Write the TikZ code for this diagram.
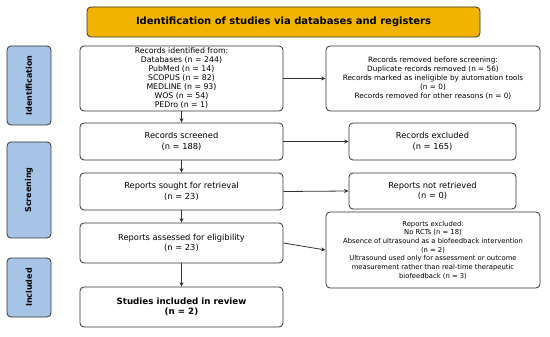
\documentclass[tikz,border=0pt]{standalone}
\usepackage{fontspec}
\setmainfont{DejaVu Sans}
\usetikzlibrary{arrows.meta}
\definecolor{headgold}{HTML}{F2B300}
\definecolor{phaseblue}{HTML}{A6C4E6}
\definecolor{edgegray}{HTML}{333333}
\begin{document}
\begin{tikzpicture}[x=1pt,y=-1pt,
  box/.style={draw=edgegray,line width=0.8pt,rounded corners=4pt,fill=white,inner sep=0pt,align=center,font=\fontsize{8.3}{10.5}\selectfont},
  phase/.style={box,fill=phaseblue,minimum width=44pt,font=\fontsize{8}{9}\selectfont\bfseries},
  flow/.style={-{Stealth[length=4.5pt,width=4pt]},line width=0.8pt,draw=edgegray}]
\useasboundingbox (0,0) rectangle (550,337);
\node[box,fill=headgold,minimum width=393pt,minimum height=30pt,font=\fontsize{10}{12}\selectfont\bfseries] (title) at (283.5,22) {Identification of studies via databases and registers};
\node[phase,minimum height=79pt] (phId) at (29,85.5) {\rotatebox{90}{Identification}};
\node[phase,minimum height=96pt] (phScr) at (29,190) {\rotatebox{90}{Screening}};
\node[phase,minimum height=59pt] (phInc) at (29,287.5) {\rotatebox{90}{Included}};
\node[box,minimum width=203pt,minimum height=65pt,font=\fontsize{7.8}{9}\selectfont] (ident) at (181.5,78.5) {Records identified from:\\Databases (n = 244)\\PubMed (n = 14)\\SCOPUS (n = 82)\\MEDLINE (n = 93)\\WOS (n = 54)\\PEDro (n = 1)};
\node[box,minimum width=203pt,minimum height=37pt] (screened) at (181.5,141.5) {Records screened\\(n = 188)};
\node[box,minimum width=203pt,minimum height=37pt] (sought) at (181.5,191.5) {Reports sought for retrieval\\(n = 23)};
\node[box,minimum width=203pt,minimum height=40pt] (assessed) at (181.5,243) {Reports assessed for eligibility\\(n = 23)};
\node[box,minimum width=203pt,minimum height=40pt,font=\fontsize{8.7}{10.5}\selectfont\bfseries] (included) at (181.5,307) {Studies included in review\\(n = 2)};
\node[box,minimum width=214pt,minimum height=65pt,font=\fontsize{7.3}{9}\selectfont] (removed) at (433,78.5) {Records removed before screening:\\Duplicate records removed (n = 56)\\Records marked as ineligible by automation tools\\(n = 0)\\Records removed for other reasons (n = 0)};
\node[box,minimum width=167pt,minimum height=37pt] (excluded) at (432.5,141.5) {Records excluded\\(n = 165)};
\node[box,minimum width=167pt,minimum height=36pt] (notretr) at (432.5,191) {Reports not retrieved\\(n = 0)};
\node[box,minimum width=214pt,minimum height=76pt,font=\fontsize{6.8}{8.7}\selectfont] (repexcl) at (433,250) {Reports excluded:\\No RCTs (n = 18)\\Absence of ultrasound as a biofeedback intervention\\(n = 2)\\Ultrasound used only for assessment or outcome\\measurement rather than real-time therapeutic\\biofeedback (n = 3)};
% vertical flow
\draw[flow] (ident) -- (screened);
\draw[flow] (screened) -- (sought);
\draw[flow] (sought) -- (assessed);
\draw[flow] (assessed) -- (included);
% side exits
\draw[flow] (ident.east) -- (removed.west);
\draw[flow] (screened.east) -- (excluded.west);
\draw[flow] (sought.east) -- (notretr.west);
\draw[flow] (assessed.east) -- (repexcl.west);
\end{tikzpicture}
\end{document}
